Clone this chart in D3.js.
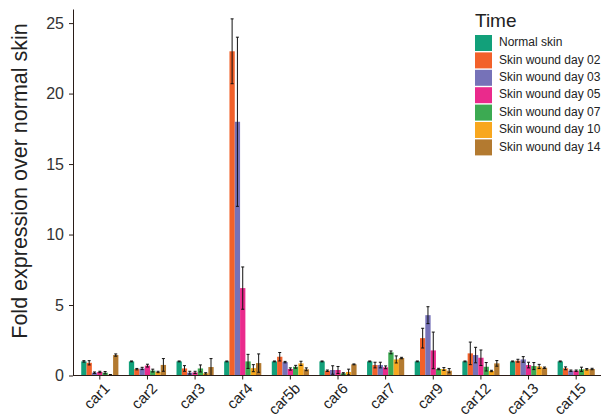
<!DOCTYPE html>
<html>
<head>
<meta charset="utf-8">
<script src="https://cdn.jsdelivr.net/npm/d3@7"></script>
<style>
  html, body { margin: 0; padding: 0; background: #fff; }
  svg { display: block; font-family: "Liberation Sans", Arial, sans-serif; }
</style>
</head>
<body>
<div id="chart"></div>
<script>
// Fold expression of carbonic anhydrases during skin wound healing

const GENES = ["car1","car2","car3","car4","car5b","car6","car7","car9","car12","car13","car15"];
const TIMES = ["Normal skin","Skin wound day 02","Skin wound day 03","Skin wound day 05",
               "Skin wound day 07","Skin wound day 10","Skin wound day 14"];
const COLORS = ["#12a07a","#f2612a","#7672b8","#ea2a8c","#3caa52","#f8a71e","#b37a30"];
const Y_TICKS = [0, 5, 10, 15, 20, 25];

// mean values per time point (one entry per gene)
const normalSkin = [1.0, 1.0, 1.0, 1.0, 1.0, 1.0, 1.0, 1.0, 1.0, 1.0, 1.0];
const day02      = [0.9, 0.45, 0.5, 23.0, 1.33, 0.34, 0.74, 2.65, 1.57, 1.05, 0.51];
const day03      = [0.2, 0.5, 0.2, 18.0, 0.95, 0.39, 0.74, 4.28, 1.45, 1.14, 0.34];
const day05      = [0.25, 0.7, 0.22, 6.2, 0.46, 0.39, 0.58, 1.78, 1.26, 0.74, 0.34];
const day07      = [0.2, 0.35, 0.5, 1.0, 0.62, 0.15, 1.64, 0.46, 0.62, 0.67, 0.44];
const day10      = [0.05, 0.25, 0.15, 0.52, 0.86, 0.25, 1.14, 0.46, 0.32, 0.64, 0.44];
const day14      = [1.45, 0.75, 0.6, 0.88, 0.44, 0.79, 1.24, 0.34, 0.86, 0.55, 0.46];

// error bar half-lengths
const normalSkinErr = [0.05, 0.03, 0.03, 0.03, 0.03, 0.03, 0.03, 0.03, 0.03, 0.03, 0.03];
const day02Err      = [0.15, 0.05, 0.2, 2.3, 0.3, 0.05, 0.2, 0.7, 0.8, 0.1, 0.1];
const day03Err      = [0.05, 0.08, 0.1, 6.0, 0.05, 0.3, 0.2, 0.6, 0.55, 0.2, 0.05];
const day05Err      = [0.05, 0.1, 0.08, 1.5, 0.08, 0.25, 0.1, 1.3, 0.55, 0.2, 0.05];
const day07Err      = [0.08, 0.1, 0.25, 0.5, 0.1, 0.05, 0.1, 0.05, 0.3, 0.25, 0.15];
const day10Err      = [0.02, 0.05, 0.05, 0.25, 0.15, 0.2, 0.25, 0.1, 0.05, 0.15, 0.05];
const day14Err      = [0.08, 0.45, 0.6, 0.65, 0.1, 0.03, 0.05, 0.15, 0.2, 0.05, 0.05];

const SERIES = [normalSkin, day02, day03, day05, day07, day10, day14];
const ERRORS = [normalSkinErr, day02Err, day03Err, day05Err, day07Err, day10Err, day14Err];

const W = 601, H = 419;
const margin = { top: 9, right: 1, bottom: 43, left: 73 };

const svg = d3.select("#chart").append("svg")
  .attr("width", W)
  .attr("height", H);

const x = d3.scaleBand()
  .domain(GENES)
  .range([margin.left + 3, W - 1])
  .paddingInner(0.22)
  .paddingOuter(0.11);

const xInner = d3.scaleBand()
  .domain(TIMES)
  .range([0, x.bandwidth()]);

const y = d3.scaleLinear()
  .domain([0, 26])
  .range([H - margin.bottom - 0.5, margin.top]);

// flatten to rows
const rows = [];
GENES.forEach((g, gi) => {
  TIMES.forEach((t, ti) => {
    rows.push({ gene: g, time: t, ti, value: SERIES[ti][gi], err: ERRORS[ti][gi] });
  });
});

// bars
svg.append("g")
  .selectAll("rect")
  .data(rows)
  .join("rect")
  .attr("x", d => x(d.gene) + xInner(d.time))
  .attr("y", d => y(d.value))
  .attr("width", xInner.bandwidth())
  .attr("height", d => y(0) - y(d.value))
  .attr("fill", d => COLORS[d.ti]);

// error bars
const eb = svg.append("g")
  .attr("stroke", "#111")
  .attr("stroke-width", 1)
  .selectAll("g")
  .data(rows)
  .join("g")
  .attr("transform", d => `translate(${x(d.gene) + xInner(d.time) + xInner.bandwidth() / 2},0)`);

eb.append("line")
  .attr("y1", d => y(d.value + d.err))
  .attr("y2", d => y(Math.max(0, d.value - d.err)));
eb.append("line")
  .attr("x1", -1.5).attr("x2", 1.5)
  .attr("y1", d => y(d.value + d.err))
  .attr("y2", d => y(d.value + d.err));
eb.append("line")
  .attr("x1", -1.5).attr("x2", 1.5)
  .attr("y1", d => y(Math.max(0, d.value - d.err)))
  .attr("y2", d => y(Math.max(0, d.value - d.err)));

// y axis
const yAxis = svg.append("g")
  .attr("transform", `translate(${margin.left},0)`)
  .call(d3.axisLeft(y).tickValues(Y_TICKS).tickSize(4).tickPadding(5).tickSizeOuter(0));
yAxis.select(".domain").attr("stroke", "#2a1d18");
yAxis.selectAll(".tick line").attr("stroke", "#2a1d18");
yAxis.selectAll(".tick text")
  .attr("font-size", 16)
  .attr("fill", "#333");

// x axis
const xAxis = svg.append("g")
  .attr("transform", `translate(0,${y(0)})`)
  .call(d3.axisBottom(x).tickSize(4).tickSizeOuter(0).tickFormat(""));
xAxis.select(".domain").attr("d", `M${margin.left},0H${W}`).attr("stroke", "#2a1d18");
xAxis.selectAll(".tick line").attr("stroke", "#2a1d18");

svg.append("g")
  .selectAll("text")
  .data(GENES)
  .join("text")
  .attr("transform", d => `translate(${x(d) + x.bandwidth() / 2 + 8},${y(0) + 11}) rotate(-45)`)
  .attr("text-anchor", "end")
  .attr("dominant-baseline", "middle")
  .attr("font-size", 15)
  .attr("fill", "#222")
  .text(d => d);

// y axis title
svg.append("text")
  .attr("transform", "translate(27,181) rotate(-90)")
  .attr("text-anchor", "middle")
  .attr("font-size", 21.5)
  .attr("fill", "#222")
  .text("Fold expression over normal skin");

// legend
const legend = svg.append("g").attr("transform", "translate(475,0)");
legend.append("text")
  .attr("x", 0).attr("y", 27)
  .attr("font-size", 19)
  .attr("fill", "#222")
  .text("Time");

const item = legend.selectAll("g.item")
  .data(TIMES)
  .join("g")
  .attr("class", "item")
  .attr("transform", (d, i) => `translate(0,${35 + i * 17.4})`);
item.append("rect")
  .attr("width", 17).attr("height", 16)
  .attr("fill", (d, i) => COLORS[i]);
item.append("text")
  .attr("x", 24).attr("y", 8)
  .attr("dominant-baseline", "middle")
  .attr("font-size", 12)
  .attr("fill", "#222")
  .text(d => d);
</script>
</body>
</html>
